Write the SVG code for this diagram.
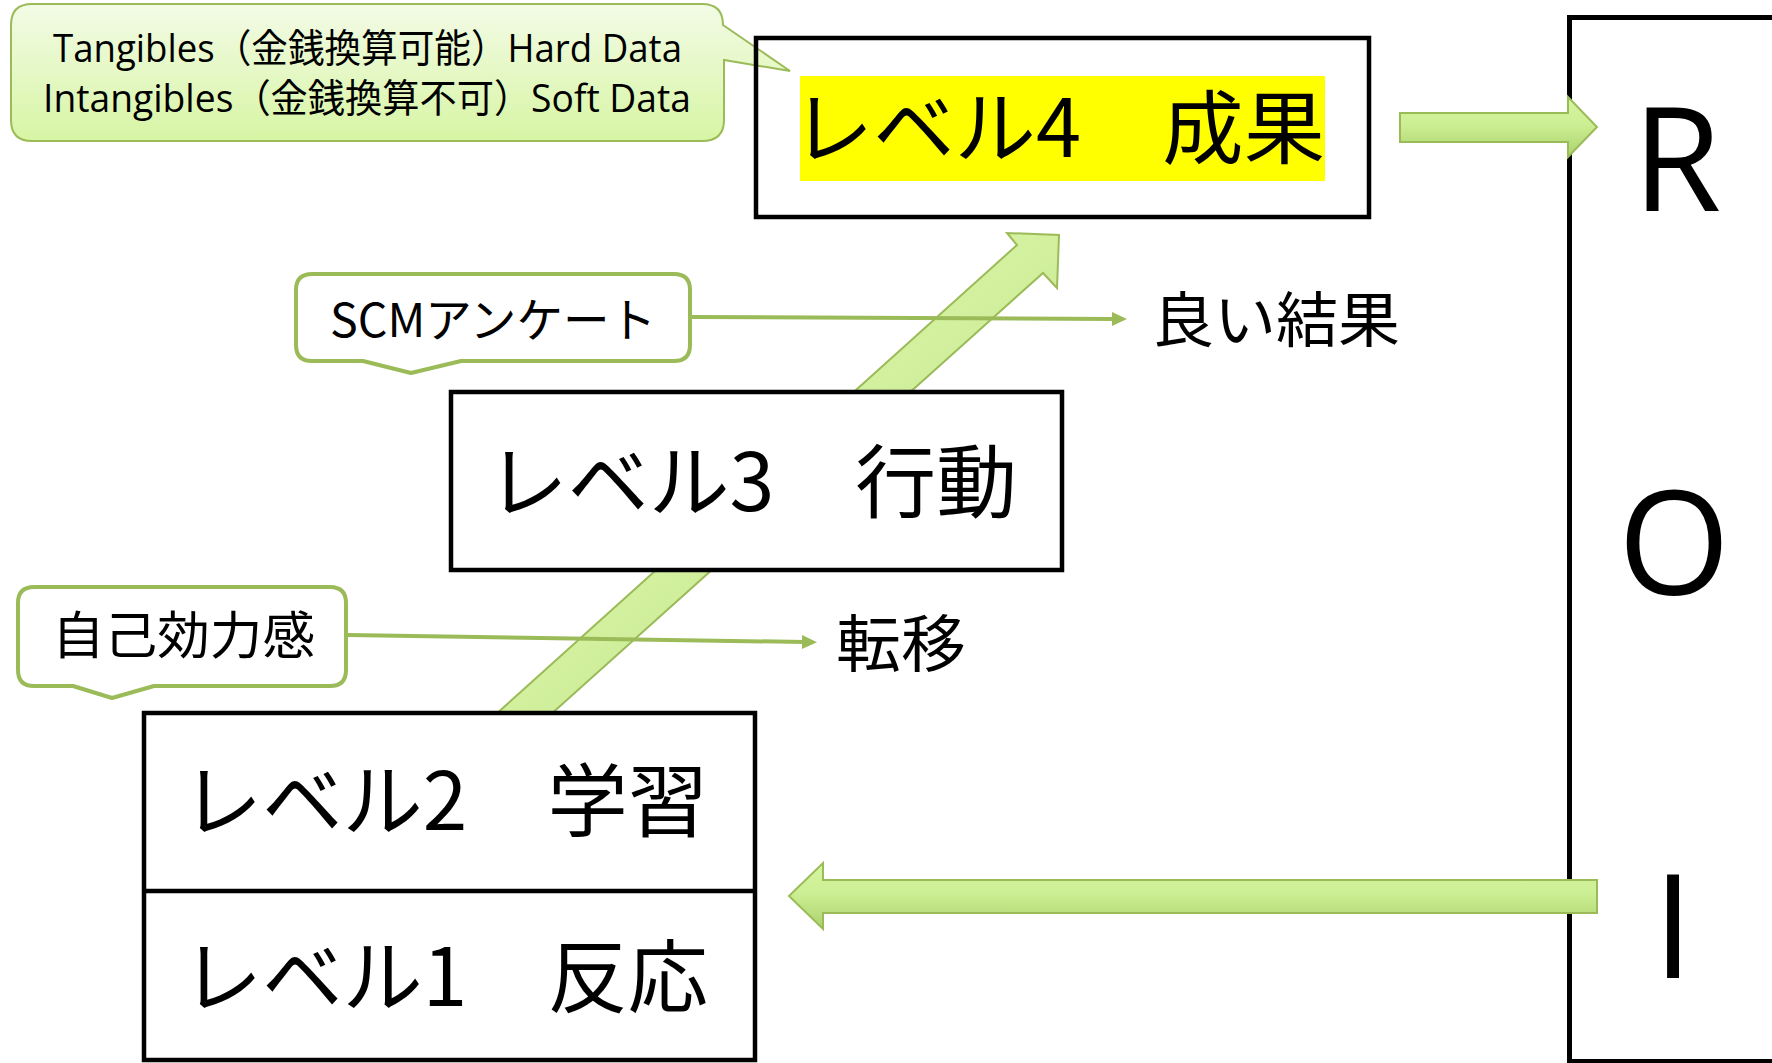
<svg xmlns="http://www.w3.org/2000/svg" width="1772" height="1063" viewBox="0 0 1772 1063">
<style>
.box{fill:#fff;stroke:#000;stroke-width:4.5}
.jp{font-family:"Noto Sans CJK JP","Noto Sans",sans-serif;fill:#000}
.lv{font-size:80px}
.roi{font-family:"Open Sans","Liberation Sans",sans-serif;font-size:144px;fill:#000;text-anchor:middle}
.call{stroke:#9bbb59;stroke-width:4;fill:#fff;stroke-linejoin:round}
.big{stroke:#9bbb59;stroke-width:2;stroke-linejoin:miter}
.conn{stroke:#9bbb59;stroke-width:4;fill:none}
</style>
<defs>
<linearGradient id="gCall" x1="0" y1="0" x2="0" y2="1">
<stop offset="0" stop-color="#f3fbe6"/>
<stop offset="1" stop-color="#d7f5a4"/>
</linearGradient>
<linearGradient id="gH" x1="0" y1="0" x2="0" y2="1">
<stop offset="0" stop-color="#d6f4a0"/>
<stop offset="0.45" stop-color="#cdef94"/>
<stop offset="1" stop-color="#aad26c"/>
</linearGradient>
<linearGradient id="gD" x1="0" y1="0" x2="1" y2="1">
<stop offset="0" stop-color="#e2f9b6"/>
<stop offset="0.5" stop-color="#d2f09e"/>
<stop offset="1" stop-color="#b6da7e"/>
</linearGradient>
<marker id="ah" viewBox="0 0 15 14" markerWidth="15" markerHeight="14" refX="2" refY="7" markerUnits="userSpaceOnUse" orient="auto">
<path d="M0,0 L15,7 L0,14 Z" fill="#9bbb59"/>
</marker>
</defs>
<rect width="1772" height="1063" fill="#fff"/>

<g id="roi">
<rect x="1569.5" y="17.5" width="260" height="1044" fill="#fff" stroke="#000" stroke-width="5"/>
<text class="roi" x="1677" y="211">R</text>
<text class="roi" x="1674" y="595">O</text>
<text class="roi" x="1673" y="978">I</text>
</g>

<g id="callout-tangibles">
<path d="M32,4 H702 Q723,4 723,25 L790,71 L724,60 V120 Q724,141 702,141 H32 Q11,141 11,120 V25 Q11,4 32,4 Z" fill="url(#gCall)" stroke="#9bbb59" stroke-width="2"/>
<text class="jp" style="font-family:'Open Sans','Noto Sans CJK JP',sans-serif" font-size="39" x="53" y="62" textLength="629" lengthAdjust="spacingAndGlyphs">Tangibles（金銭換算可能）Hard Data</text>
<text class="jp" style="font-family:'Open Sans','Noto Sans CJK JP',sans-serif" font-size="39" x="43" y="112" textLength="648" lengthAdjust="spacingAndGlyphs">Intangibles（金銭換算不可）Soft Data</text>
</g>

<g id="level4">
<rect x="756" y="38" width="613" height="179" fill="none" stroke="#000" stroke-width="4.5"/>
<rect x="800" y="76" width="525" height="105" fill="#ffff00"/>
<text class="jp lv" x="792" y="157" textLength="533" lengthAdjust="spacingAndGlyphs">レベル4　成果</text>
</g>

<g id="arrows">
<polygon class="big" fill="url(#gD)" points="494,716 1017,245 1007,233 1059,235 1057,288 1043,273 549,716"/>
</g>

<g id="level3">
<rect class="box" x="451" y="392" width="611" height="178"/>
<text class="jp lv" x="487" y="511" textLength="530" lengthAdjust="spacingAndGlyphs">レベル3　行動</text>
</g>

<g id="level2-1">
<rect class="box" x="144" y="713" width="611" height="347"/>
<line x1="144" y1="891" x2="755" y2="891" stroke="#000" stroke-width="4.5"/>
<text class="jp lv" x="182" y="830" textLength="526" lengthAdjust="spacingAndGlyphs">レベル2　学習</text>
<text class="jp lv" x="182" y="1006" textLength="526" lengthAdjust="spacingAndGlyphs">レベル1　反応</text>
</g>

<g id="callout-scm">
<path class="call" d="M312,274 H674 Q690,274 690,290 V345 Q690,361 674,361 H461 L411,373 L363,361 H312 Q296,361 296,345 V290 Q296,274 312,274 Z"/>
<text class="jp" font-size="47" x="330" y="337" textLength="326" lengthAdjust="spacingAndGlyphs">SCMアンケート</text>
</g>

<g id="callout-selfefficacy">
<path class="call" d="M34,587 H330 Q346,587 346,603 V670 Q346,686 330,686 H154 L112,698 L73,686 H34 Q18,686 18,670 V603 Q18,587 34,587 Z"/>
<text class="jp" font-size="51" x="52" y="654" textLength="263" lengthAdjust="spacingAndGlyphs">自己効力感</text>
</g>

<g id="label-good">
<text class="jp" font-size="60" x="1152" y="342" textLength="248" lengthAdjust="spacingAndGlyphs">良い結果</text>
</g>
<g id="label-transfer">
<text class="jp" font-size="62" x="836" y="667" textLength="130" lengthAdjust="spacingAndGlyphs">転移</text>
</g>

<g id="connectors">
<polygon class="big" fill="url(#gH)" points="1400,113 1568,113 1568,97 1597,127 1568,157 1568,142 1400,142"/>
<polygon class="big" fill="url(#gH)" points="1597,880 823,880 823,863 789,896 823,929 823,913 1597,913"/>
<line class="conn" x1="692" y1="317" x2="1114" y2="319" marker-end="url(#ah)"/>
<line class="conn" x1="348" y1="635" x2="804" y2="642" marker-end="url(#ah)"/>
</g>
</svg>
